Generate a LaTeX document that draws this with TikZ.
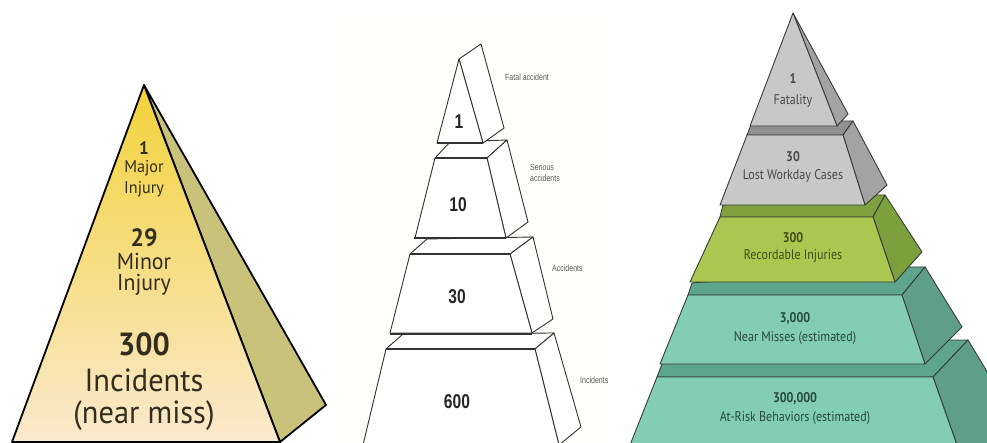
\documentclass[tikz,border=0pt]{standalone}
\usepackage{fontspec}
\setmainfont{PT Sans}
\newfontfamily\myr{PT Sans}[FakeStretch=0.86]
\newfontfamily\myl{PT Sans}[FakeStretch=0.95]
\newfontfamily\nar{Liberation Sans}[FakeStretch=0.78]
\definecolor{olive}{RGB}{200,194,122}
\definecolor{ytop}{RGB}{242,210,58}
\definecolor{ymid}{RGB}{247,226,140}
\definecolor{ybot}{RGB}{250,233,206}
\definecolor{ltxt}{RGB}{50,45,30}
\definecolor{mline}{RGB}{50,50,50}
\definecolor{mlab}{RGB}{90,90,90}
\definecolor{mbg}{RGB}{254,254,251}
\definecolor{gfront}{RGB}{200,200,200}
\definecolor{gband}{RGB}{145,145,145}
\definecolor{gside}{RGB}{163,163,163}
\definecolor{gtxt}{RGB}{72,72,72}
\definecolor{nfront}{RGB}{170,200,80}
\definecolor{nband}{RGB}{128,160,64}
\definecolor{nside}{RGB}{124,160,62}
\definecolor{ntxt}{RGB}{60,76,26}
\definecolor{tfront}{RGB}{130,205,180}
\definecolor{tband}{RGB}{94,165,141}
\definecolor{tside}{RGB}{95,159,138}
\definecolor{ttxt}{RGB}{40,72,62}
\definecolor{redge}{RGB}{55,60,55}
\tikzset{
  ledge/.style={draw=black, line width=1.8pt, line join=round},
  mface/.style={draw=mline, fill=white, line width=0.9pt, line join=round},
  mtop/.style={draw=mline, line width=1.6pt},
  mnum/.style={font=\nar\bfseries\fontsize{20}{22}\selectfont, text=black!85},
  mlabel/.style={font=\nar\fontsize{9}{10.5}\selectfont, text=mlab, anchor=west, align=left, inner sep=0pt},
  rface/.style={draw=redge, line width=0.9pt, line join=round},
  ltext/.style={text=ltxt, inner sep=0pt},
  rnum/.style={font=\myr\bfseries\fontsize{14}{15}\selectfont, inner sep=0pt},
  rlab/.style={font=\myr\fontsize{14}{15}\selectfont, inner sep=0pt}
}
\begin{document}
\begin{tikzpicture}[x=1pt,y=-1pt]
\useasboundingbox (0,0) rectangle (987,443);
\clip (0,0) rectangle (987,443);
\fill[white] (0,0) rectangle (987,443);

% ---------------- Left pyramid ----------------
\filldraw[ledge, fill=olive] (144,85) -- (326,405) -- (280,442) -- cycle;
\shade[top color=ytop, middle color=ymid, bottom color=ybot] (144,85) -- (12,442) -- (280,442) -- cycle;
\draw[ledge] (144,85) -- (12,442) -- (280,442) -- cycle;
\node[ltext, font=\myl\bfseries\fontsize{18}{19}\selectfont] (l1) at (144,148) {1};
\node[ltext, font=\myl\fontsize{17}{18}\selectfont] (l1a) at (144,168) {Major};
\node[ltext, font=\myl\fontsize{17}{18}\selectfont] (l1b) at (144,189) {Injury};
\node[ltext, font=\myl\bfseries\fontsize{25}{27}\selectfont] (l2) at (144,238) {29};
\node[ltext, font=\myl\fontsize{23}{25}\selectfont] (l2a) at (144,261) {Minor};
\node[ltext, font=\myl\fontsize{23}{25}\selectfont] (l2b) at (144,285) {Injury};
\node[ltext, font=\myl\bfseries\fontsize{32}{34}\selectfont] (l3) at (144,344) {300};
\node[ltext, font=\myl\fontsize{32}{35}\selectfont] (l3a) at (144,380) {Incidents};
\node[ltext, font=\myl\fontsize{32}{35}\selectfont] (l3b) at (144,416) {(near miss)};

% ---------------- Middle pyramid ----------------
\fill[mbg] (337,17) rectangle (612,443);
% tier 4
\draw[mface] (386,349) -- (403,334) -- (554,333) -- (535,349) -- cycle;
\draw[mface] (535,349) -- (554,333) -- (581,427) -- (559,445) -- cycle;
\draw[mface] (386,349) -- (535,349) -- (559,445) -- (363,445) -- cycle;
\draw[mtop] (386,349) -- (535,349);
\node[mnum] (m4) at (457,402) {600};
% tier 3
\draw[mface] (410,254) -- (427,239) -- (533,237) -- (510,254) -- cycle;
\draw[mface] (510,254) -- (533,237) -- (553,319) -- (532,333) -- cycle;
\draw[mface] (410,254) -- (510,254) -- (532,333) -- (390,333) -- cycle;
\draw[mtop] (410,254) -- (510,254);
\draw[mtop] (390,334) -- (532,334);
\node[mnum] (m3) at (457,297) {30};
% tier 2
\draw[mface] (435,158) -- (450,142) -- (507,140) -- (487,158) -- cycle;
\draw[mface] (487,158) -- (507,140) -- (528,222) -- (506,238) -- cycle;
\draw[mface] (435,158) -- (487,158) -- (506,238) -- (415,238) -- cycle;
\draw[mtop] (435,158) -- (487,158);
\draw[mtop] (414,238) -- (506,238);
\node[mnum] (m2) at (458,205) {10};
% tier 1
\draw[mface] (459,59) -- (481,44) -- (504,128) -- (483,143) -- cycle;
\draw[mface] (459,59) -- (437,143) -- (483,143) -- cycle;
\draw[mtop] (437,143) -- (483,143);
\node[mnum] (m1) at (459,122) {1};
% labels
\node[mlabel] (ml1) at (505,77) {Fatal accident};
\node[mlabel] (ml2) at (530,173) {Serious\\accidents};
\node[mlabel] (ml3) at (552,268) {Accidents};
\node[mlabel] (ml4) at (580,380) {Incidents};

% ---------------- Right pyramid ----------------
% tier 5
\filldraw[rface, fill=tband] (657,377) -- (933,377) -- (968,340) -- (900,340) -- (662,364) -- cycle;
\filldraw[rface, fill=tside] (933,377) -- (968,340) -- (1030,443) -- (957,445) -- cycle;
\filldraw[rface, fill=tfront] (657,377) -- (933,377) -- (957,445) -- (630,445) -- cycle;
\node[rnum, text=ttxt] (r5) at (795,399) {300,000};
\node[rlab, text=ttxt] (r5a) at (795,418) {At-Risk Behaviors (estimated)};
% tier 4
\filldraw[rface, fill=tband] (688,295) -- (902,295) -- (925,267) -- (880,267) -- (692,283) -- cycle;
\filldraw[rface, fill=tside] (902,295) -- (925,267) -- (962,327) -- (925,364) -- cycle;
\filldraw[rface, fill=tfront] (688,295) -- (902,295) -- (925,364) -- (660,364) -- cycle;
\node[rnum, text=ttxt] (r4) at (795,319) {3,000};
\node[rlab, text=ttxt] (r4a) at (795,338) {Near Misses (estimated)};
% tier 3
\filldraw[rface, fill=nband] (720,217) -- (873,217) -- (885,195) -- (860,195) -- (723,205) -- cycle;
\filldraw[rface, fill=nside] (873,217) -- (885,195) -- (922,252) -- (895,282) -- cycle;
\filldraw[rface, fill=nfront] (720,217) -- (873,217) -- (895,282) -- (690,282) -- cycle;
\node[rnum, text=ntxt] (r3) at (793,238) {300};
\node[rlab, text=ntxt] (r3a) at (793,256) {Recordable Injuries};
% tier 2
\filldraw[rface, fill=gband] (747,135) -- (843,135) -- (853,121) -- (830,121) -- (751,125) -- cycle;
\filldraw[rface, fill=gside] (843,135) -- (853,121) -- (887,185) -- (865,205) -- cycle;
\filldraw[rface, fill=gfront] (747,135) -- (843,135) -- (865,205) -- (720,205) -- cycle;
\node[rnum, text=gtxt] (r2) at (793,157) {30};
\node[rlab, text=gtxt] (r2a) at (793,176) {Lost Workday Cases};
% tier 1
\filldraw[rface, fill=gside] (793,13) -- (848,114) -- (837,126) -- cycle;
\filldraw[rface, fill=gfront] (793,13) -- (750,126) -- (837,126) -- cycle;
\node[rnum, text=gtxt] (r1) at (793,79) {1};
\node[rlab, text=gtxt] (r1a) at (793,101) {Fatality};
\end{tikzpicture}
\end{document}
